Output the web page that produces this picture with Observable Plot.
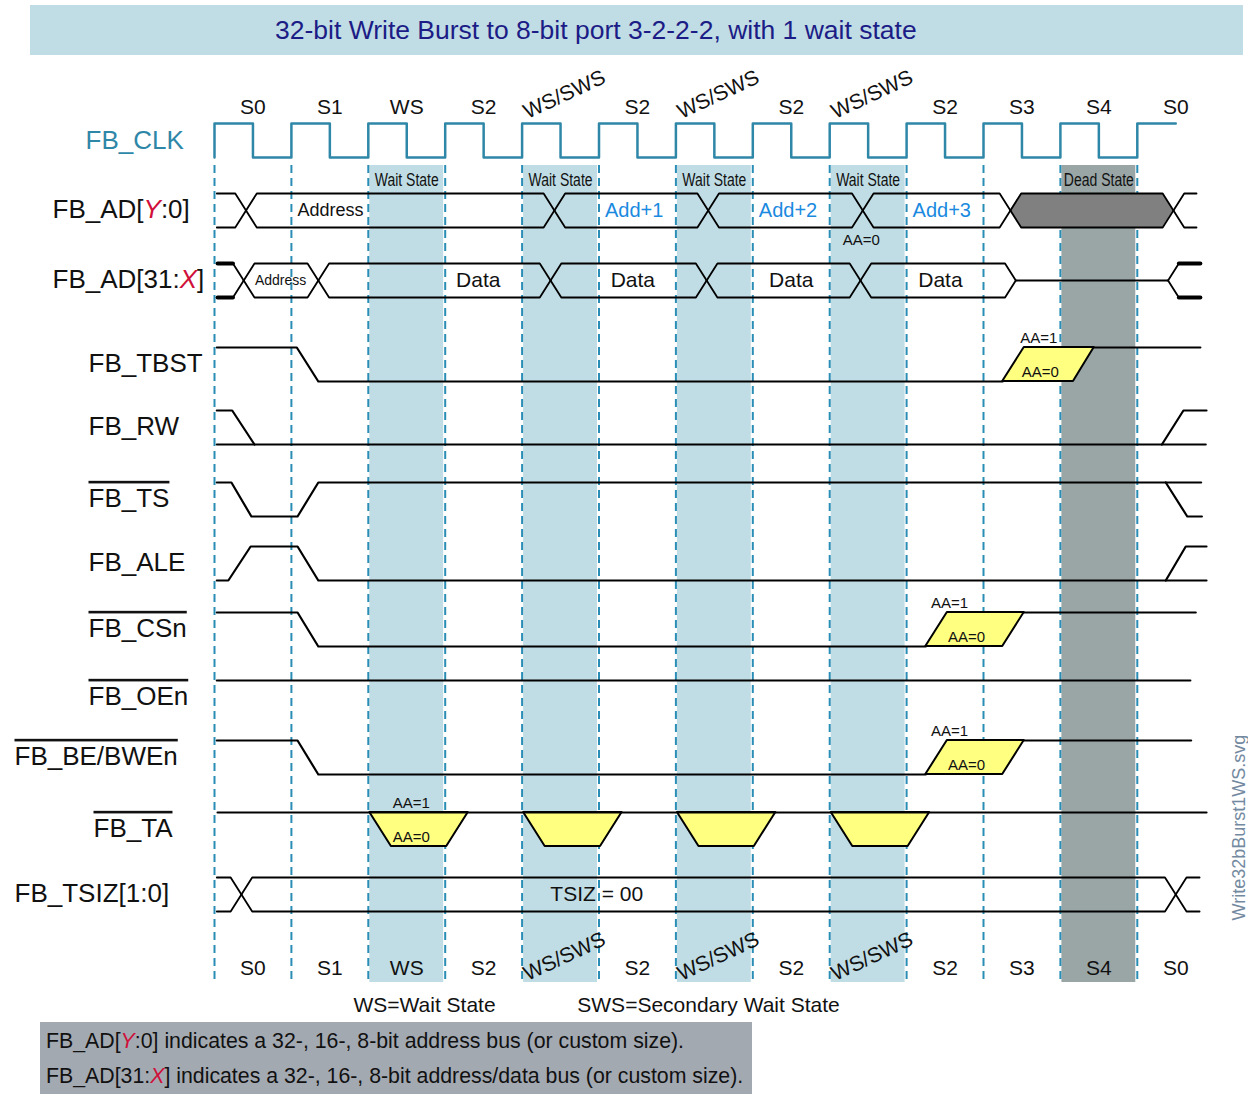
<!DOCTYPE html>
<html><head><meta charset="utf-8">
<script src="https://cdn.jsdelivr.net/npm/d3@7"></script>
<script src="https://cdn.jsdelivr.net/npm/@observablehq/plot@0.6"></script>
<style>
html,body{margin:0;padding:0;background:#fff}
body{width:1248px;height:1094px;position:relative;overflow:hidden;font-family:"Liberation Sans",Arial,Helvetica,sans-serif}
#title{position:absolute;left:30px;top:5px;width:1213px;height:50px;background:#c0dde5;color:#1c1c86;font-size:26.5px;line-height:50px;box-sizing:border-box;padding-left:245px;white-space:nowrap}
#chart{position:absolute;left:0;top:60px}
#note{position:absolute;left:40px;top:1022px;width:712px;height:72px;background:#a3a9b1;box-sizing:border-box;padding:2px 0 0 6px;font-size:21.3px;line-height:35px;color:#111;white-space:nowrap}
.v{color:#d0103a;font-style:italic}
</style></head><body>
<div id="title"></div><div id="chart"></div><div id="note"></div>
<script>
// ================= DATA =================
const title = "32-bit Write Burst to 8-bit port 3-2-2-2, with 1 wait state";
const notes = [
  ["FB_AD[", "Y", ":0] indicates a 32-, 16-, 8-bit address bus (or custom size)."],
  ["FB_AD[31:", "X", "] indicates a 32-, 16-, 8-bit address/data bus (or custom size)."]
];
const states = ["S0","S1","WS","S2","WS/SWS","S2","WS/SWS","S2","WS/SWS","S2","S3","S4","S0"];
const waitStates = [2, 4, 6, 8];
const deadStates = [11];
const legendItems = ["WS=Wait State", "SWS=Secondary Wait State"];
const fileName = "Write32bBurst1WS.svg";

const signals = ["FB_CLK","FB_AD[Y:0]","FB_AD[31:X]","FB_TBST","FB_RW","FB_TS","FB_ALE","FB_CSn","FB_OEn","FB_BE/BWEn","FB_TA","FB_TSIZ[1:0]"];
const activeLow = ["FB_TS","FB_CSn","FB_OEn","FB_BE/BWEn","FB_TA"];

// clock: [time in clock periods, level]
const clockEdges = [[0,0],[0,1],[0.5,0],[1,1],[1.5,0],[2,1],[2.5,0],[3,1],[3.5,0],[4,1],[4.5,0],[5,1],[5.5,0],[6,1],[6.5,0],[7,1],[7.5,0],[8,1],[8.5,0],[9,1],[9.5,0],[10,1],[10.5,0],[11,1],[11.5,0],[12,1],[12.5,1]];

// single-bit waveforms: polylines of [time, level]
const tbstWave = [[[0.03,1],[1.07,1],[1.35,0],[10.25,0]], [[11.44,1],[12.82,1]]];
const rwWave   = [[[0.03,1],[0.23,1],[0.52,0]], [[0.03,0],[12.89,0]], [[12.32,0],[12.6,1],[12.9,1]]];
const tsWave   = [[[0.03,1],[0.22,1],[0.48,0],[1.08,0],[1.35,1],[12.83,1]], [[12.37,1],[12.65,0],[12.84,0]]];
const aleWave  = [[[0.03,0],[0.18,0],[0.47,1],[1.08,1],[1.35,0],[12.9,0]], [[12.37,0],[12.63,1],[12.9,1]]];
const csWave   = [[[0.03,1],[1.08,1],[1.35,0],[9.25,0]], [[10.53,1],[12.76,1]]];
const oeWave   = [[[0.03,1],[12.69,1]]];
const beWave   = [[[0.03,1],[1.08,1],[1.35,0],[9.25,0]], [[10.53,1],[12.7,1]]];
const taWave   = [[[0.04,1],[12.9,1]]];

// auto-acknowledge windows (yellow)
const aaWindows = [
  {sig:"FB_TBST", loFrom:10.25, loTo:11.17, hiFrom:10.53, hiTo:11.44},
  {sig:"FB_CSn", loFrom:9.25, loTo:10.25, hiFrom:9.53, hiTo:10.53},
  {sig:"FB_BE/BWEn", loFrom:9.25, loTo:10.25, hiFrom:9.53, hiTo:10.53},
  {sig:"FB_TA", hiFrom:2.02, hiTo:3.30, loFrom:2.30, loTo:3.02},
  {sig:"FB_TA", hiFrom:4.02, hiTo:5.30, loFrom:4.30, loTo:5.02},
  {sig:"FB_TA", hiFrom:6.02, hiTo:7.30, loFrom:6.30, loTo:7.02},
  {sig:"FB_TA", hiFrom:8.02, hiTo:9.30, loFrom:8.30, loTo:9.02}
];
const aaLabels = [
  {sig:"FB_TBST", text:"AA=1", t:10.72, level:1},
  {sig:"FB_TBST", text:"AA=0", t:10.74, level:0},
  {sig:"FB_CSn", text:"AA=1", t:9.56, level:1},
  {sig:"FB_CSn", text:"AA=0", t:9.78, level:0},
  {sig:"FB_BE/BWEn", text:"AA=1", t:9.56, level:1},
  {sig:"FB_BE/BWEn", text:"AA=0", t:9.78, level:0},
  {sig:"FB_TA", text:"AA=1", t:2.56, level:1},
  {sig:"FB_TA", text:"AA=0", t:2.56, level:0}
];
const busNotes = [{sig:"FB_AD[Y:0]", text:"AA=0", t:8.41}];

// buses: segments between transitions (time in clock periods)
const adAddrBus = [
  {from:0.03, to:0.41, kind:"valid"},
  {from:0.41, to:4.42, kind:"valid", label:"Address", labelAt:1, align:"start"},
  {from:4.42, to:6.42, kind:"valid", label:"Add+1", labelAt:5, align:"start"},
  {from:6.42, to:8.43, kind:"valid", label:"Add+2", labelAt:7, align:"start"},
  {from:8.43, to:10.35, kind:"valid", label:"Add+3", labelAt:9, align:"start"},
  {from:10.35, to:12.47, kind:"dead"},
  {from:12.47, to:12.77, kind:"valid"}
];
const adDataBus = [
  {from:0.04, to:0.38, kind:"stub"},
  {from:0.38, to:1.35, kind:"valid", label:"Address", labelAt:0.86, align:"middle"},
  {from:1.35, to:4.37, kind:"valid", label:"Data", labelAt:3.43, align:"middle"},
  {from:4.37, to:6.40, kind:"valid", label:"Data", labelAt:5.44, align:"middle"},
  {from:6.40, to:8.40, kind:"valid", label:"Data", labelAt:7.50, align:"middle"},
  {from:8.40, to:10.42, kind:"valid", label:"Data", labelAt:9.44, align:"middle"},
  {from:10.42, to:12.40, kind:"z"},
  {from:12.40, to:12.82, kind:"stub"}
];
const tsizBus = [
  {from:0.03, to:0.35, kind:"valid"},
  {from:0.35, to:12.5, kind:"valid", label:"TSIZ = 00", labelAt:4.97, align:"middle"},
  {from:12.5, to:12.81, kind:"valid"}
];

// ================= LAYOUT / STYLE =================
const W = 1248, H = 960;
const X0 = 214, PERIOD = 76.9;               // pixel of first clock edge, pixels per clock period
const tOf = px => (px - X0) / PERIOD;
const SWING = 34, XH = 0.14;
const laneHi = {"FB_CLK":63,"FB_AD[Y:0]":133,"FB_AD[31:X]":203,"FB_TBST":287,"FB_RW":350,"FB_TS":422,"FB_ALE":486,"FB_CSn":552,"FB_OEn":620,"FB_BE/BWEn":680,"FB_TA":752,"FB_TSIZ[1:0]":817};
const labelLeft = {"FB_CLK":85,"FB_AD[Y:0]":52,"FB_AD[31:X]":52,"FB_TBST":88,"FB_RW":88,"FB_TS":88,"FB_ALE":88,"FB_CSn":88,"FB_OEn":88,"FB_BE/BWEn":14,"FB_TA":93,"FB_TSIZ[1:0]":14};
const legendCenter = [424, 708];
const condensedWidth = {"Wait State": 64, "Dead State": 70};
const BAND_TOP = 105, BAND_BOTTOM = 922, DASH_BOTTOM = 920;
const TEAL = "#2f87a8", DASH = "#2a8db5", WAITC = "#c0dde5", DEADC = "#9aa6a6", BLUE = "#1a8ae0", YELLOW = "#ffff80";
const FONT = "Liberation Sans, Arial, Helvetica, sans-serif";
const hiY = s => laneHi[s], loY = s => laneHi[s] + SWING;

// ================= HTML text =================
document.getElementById("title").textContent = title;
const note = d3.select("#note");
notes.forEach(([a, v, b]) => {
  const line = note.append("div");
  line.append("span").text(a);
  line.append("span").attr("class", "v").text(v);
  line.append("span").text(b);
});

// ================= build rows =================
const waveRows = [];
[["FB_TBST", tbstWave],["FB_RW", rwWave],["FB_TS", tsWave],["FB_ALE", aleWave],["FB_CSn", csWave],["FB_OEn", oeWave],["FB_BE/BWEn", beWave],["FB_TA", taWave]]
  .forEach(([sig, wave]) => wave.forEach((poly, j) => poly.forEach(([t, v]) =>
    waveRows.push({id: sig + j, t, y: v ? hiY(sig) : loY(sig)}))));

const winRows = [];
aaWindows.forEach((w, i) => {
  winRows.push({id: i, t1: w.loFrom, t2: w.loTo, y: loY(w.sig)});
  winRows.push({id: i, t1: w.hiFrom, t2: w.hiTo, y: hiY(w.sig)});
});

const busLines = [], busThick = [], busFill = [], busLabels = [];
[["FB_AD[Y:0]", adAddrBus], ["FB_AD[31:X]", adDataBus], ["FB_TSIZ[1:0]", tsizBus]].forEach(([sig, bus]) => {
  const top = hiY(sig), bot = loY(sig), mid = (top + bot) / 2;
  bus.forEach((s, i) => {
    const openL = i === 0, openR = i === bus.length - 1, id = sig + "#" + i;
    if (s.label) busLabels.push({sig, text: s.label, t: s.labelAt, y: mid, align: s.align});
    if (s.kind === "z") { [[s.from, mid], [s.to, mid]].forEach(([t, y]) => busLines.push({id: id + "z", t, y})); return; }
    [top, bot].forEach((edge, e) => {
      const pts = [];
      if (openL) pts.push([s.from, edge]); else pts.push([s.from, mid], [s.from + XH, edge]);
      if (openR) pts.push([s.to, edge]); else pts.push([s.to - XH, edge], [s.to, mid]);
      pts.forEach(([t, y]) => busLines.push({id: id + "e" + e, t, y}));
      if (s.kind === "stub") {
        busThick.push({id: id + "s" + e, t: openL ? s.from : s.from + XH, y: edge});
        busThick.push({id: id + "s" + e, t: openR ? s.to : s.to - XH, y: edge});
      }
    });
    if (s.kind === "dead") {
      [[s.from, mid, mid], [s.from + XH, top, bot], [s.to - XH, top, bot], [s.to, mid, mid]]
        .forEach(([t, y1, y2]) => busFill.push({id, t, y1, y2}));
    }
  });
});

const stateRows = states.map((s, i) => ({s, i}));
const plain = stateRows.filter(d => d.s !== "WS/SWS");
const rotated = stateRows.filter(d => d.s === "WS/SWS");

// ================= marks =================
const marks = [
  Plot.rect(waitStates, {x1: k => k, x2: k => k + 1, y1: () => BAND_TOP, y2: () => BAND_BOTTOM, fill: WAITC, insetLeft: 1.5, insetRight: 1.5}),
  Plot.rect(deadStates, {x1: k => k, x2: k => k + 1, y1: () => BAND_TOP, y2: () => BAND_BOTTOM, fill: DEADC, insetLeft: 1.5, insetRight: 1.5}),
  Plot.ruleX(states.map((_, i) => i), {x: d => d, y1: () => BAND_TOP, y2: () => DASH_BOTTOM, stroke: DASH, strokeWidth: 2, strokeDasharray: "8 5"}),
  Plot.text(waitStates, {x: k => k + 0.5, y: () => 120, text: () => "Wait State", fontSize: 17.5, fill: "#111"}),
  Plot.text(deadStates, {x: k => k + 0.5, y: () => 120, text: () => "Dead State", fontSize: 17.5, fill: "#111"}),
  // clock
  Plot.line(clockEdges, {x: d => d[0], y: d => d[1] ? hiY("FB_CLK") : loY("FB_CLK"), curve: "step-after", stroke: TEAL, strokeWidth: 2.5}),
  // yellow windows
  Plot.areaX(winRows, {y: "y", x1: "t1", x2: "t2", z: "id", fill: YELLOW, stroke: "black", strokeWidth: 2}),
  // single-bit waves
  Plot.line(waveRows, {x: "t", y: "y", z: "id", stroke: "black", strokeWidth: 2.2}),
  // buses
  Plot.areaY(busFill, {x: "t", y1: "y1", y2: "y2", z: "id", fill: "#808080"}),
  Plot.line(busLines, {x: "t", y: "y", z: "id", stroke: "black", strokeWidth: 1.8}),
  Plot.line(busThick, {x: "t", y: "y", z: "id", stroke: "black", strokeWidth: 4}),
  // AA labels
  Plot.text(aaLabels, {x: "t", y: d => (d.level ? hiY(d.sig) : loY(d.sig)) - 9, text: "text", fontSize: 15, fill: "#111"}),
  Plot.text(busNotes, {x: "t", y: d => loY(d.sig) + 13, text: "text", fontSize: 15, fill: "#111"}),
  // state labels
  Plot.text(plain, {x: d => d.i + 0.5, y: () => 47, text: "s", fontSize: 21, fill: "#111"}),
  Plot.text(rotated, {x: d => d.i + 0.55, y: () => 34, text: "s", fontSize: 21, rotate: -25, fill: "#111"}),
  Plot.text(plain, {x: d => d.i + 0.5, y: () => 908, text: "s", fontSize: 21, fill: "#111"}),
  Plot.text(rotated, {x: d => d.i + 0.55, y: () => 896, text: "s", fontSize: 21, rotate: -25, fill: "#111"}),
  // signal names
  Plot.text(signals.filter(s => s !== "FB_CLK"), {x: s => tOf(labelLeft[s]), y: s => hiY(s) + 16, text: d => d, textAnchor: "start", fontSize: 26, fill: "#111"}),
  Plot.text(["FB_CLK"], {x: s => tOf(labelLeft[s]), y: s => hiY(s) + 17, text: d => d, textAnchor: "start", fontSize: 26, fill: TEAL}),
  // legend
  Plot.text(legendItems, {x: (d, i) => tOf(legendCenter[i]), y: () => 945, text: d => d, fontSize: 21, fill: "#111"}),
  // file name
  Plot.text([fileName], {x: () => tOf(1239), y: () => 860, text: d => d, rotate: -90, textAnchor: "start", fontSize: 18, fill: "#7389a0"})
];
// bus labels (each with its own styling)
busLabels.forEach(b => {
  const small = b.sig === "FB_AD[31:X]" && b.text === "Address";
  const blue = b.text.startsWith("Add+");
  marks.push(Plot.text([b], {x: "t", y: "y", text: "text", textAnchor: b.align, dx: b.align === "start" ? 6 : 0,
    fontSize: small ? 14 : (b.text === "Address" ? 18 : (blue ? 20 : 21)),
    fill: blue ? BLUE : "#111"}));
});

const svg = Plot.plot({
  width: W, height: H, margin: 0,
  x: {domain: [tOf(0), tOf(W)], range: [0, W], axis: null},
  y: {domain: [0, H], range: [0, H], axis: null},
  style: {fontFamily: FONT, background: "white", overflow: "hidden"},
  marks
});

// post-process: overlines for active-low signals, red italic variable letters, condensed band labels
d3.select(svg).selectAll("text").each(function () {
  const t = this.textContent;
  if (activeLow.includes(t)) {
    this.style.textDecoration = "overline";
    this.style.textDecorationThickness = "2px";
  }
  if (condensedWidth[t]) {
    this.setAttribute("textLength", condensedWidth[t]);
    this.setAttribute("lengthAdjust", "spacingAndGlyphs");
  }
  const parts = t === "FB_AD[Y:0]" ? ["FB_AD[", "Y", ":0]"] : t === "FB_AD[31:X]" ? ["FB_AD[31:", "X", "]"] : null;
  if (parts) {
    this.textContent = "";
    const sel = d3.select(this);
    sel.append("tspan").text(parts[0]);
    sel.append("tspan").attr("fill", "#d0103a").attr("font-style", "italic").text(parts[1]);
    sel.append("tspan").text(parts[2]);
  }
});
document.getElementById("chart").appendChild(svg);
</script>
</body></html>
